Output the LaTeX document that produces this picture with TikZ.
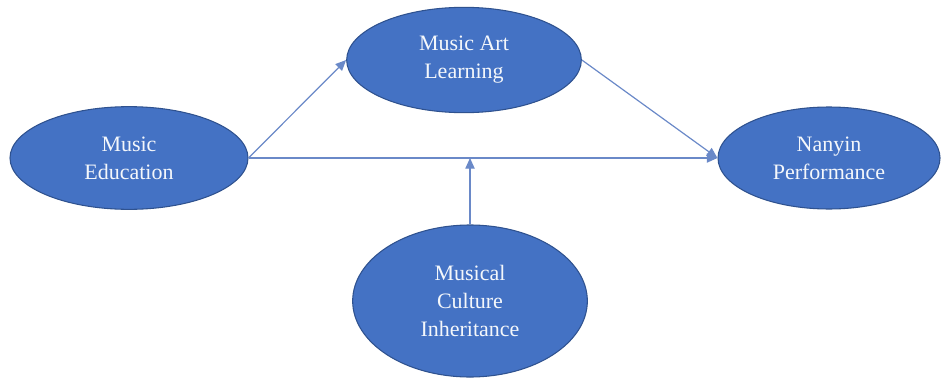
\documentclass[tikz,border=0pt]{standalone}
\usepackage{fontspec}
\setmainfont{Liberation Serif}
\usetikzlibrary{%
  calc,
  positioning,
  shapes.geometric,
  arrows.meta,
}
\definecolor{ovalblue}{HTML}{4472C4}
\definecolor{ovaledge}{HTML}{2F528F}
\definecolor{linkblue}{HTML}{6A89C8}

\begin{document}
\begin{tikzpicture}[
    x = 0.75pt, y = -0.75pt,
    oval/.style = {
      ellipse, inner sep = 0pt,
      draw = ovaledge, line width = 0.8pt,
      fill = ovalblue,
      text = white!94!ovalblue,
      align = center,
      font = \fontsize{16.5}{21}\selectfont,
    },
  ]
        \useasboundingbox (0,0) rectangle (944,385);

        \node[oval, minimum width = 178.5pt, minimum height = 77pt]
          (edu) at (129,158) {Music\\Education};
        \node[oval, minimum width = 176pt, minimum height = 79pt]
          (mal) at (464,60) {Music Art\\Learning};
        \node[oval, minimum width = 166.5pt, minimum height = 76.5pt]
          (np) at (829,158) {Nanyin\\Performance};
        \node[oval, minimum width = 176pt, minimum height = 114pt]
          (mci) at (470,301) {Musical\\Culture\\Inheritance};

        \begin{scope}[linkblue, line width = 0.9pt,
            -{Triangle[length = 8pt, width = 7pt]}]
          \draw (edu.east) -- (mal.west);
          \draw (mal.east) -- (np.west);
          \draw (edu.east) -- (np.west);
          \draw (mci.north) -- (mci.north |- edu.east);
        \end{scope}
      \end{tikzpicture}
\end{document}
